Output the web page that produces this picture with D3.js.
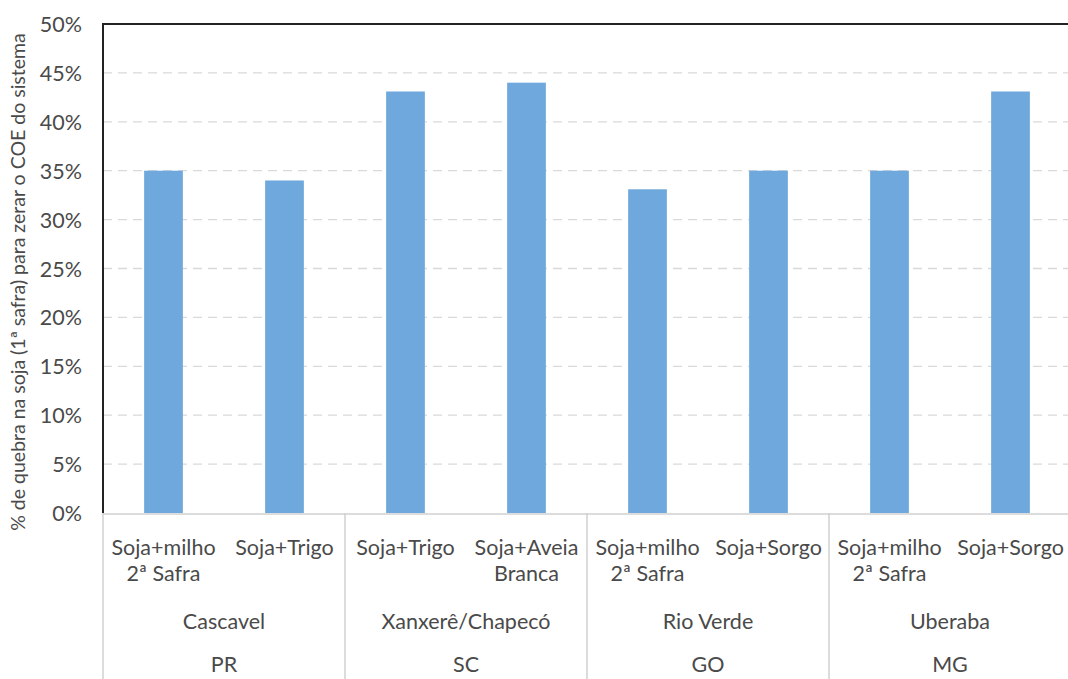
<!DOCTYPE html>
<html><head><meta charset="utf-8">
<script src="https://cdn.jsdelivr.net/npm/d3@7/dist/d3.min.js"></script>
<style>html,body{margin:0;padding:0;background:#fff;overflow:hidden}</style>
</head><body>
<svg id="c" width="1068" height="679"></svg>
<script>
const systemLabels = [
  ["Soja+milho","2ª Safra"], ["Soja+Trigo"],
  ["Soja+Trigo"], ["Soja+Aveia","Branca"],
  ["Soja+milho","2ª Safra"], ["Soja+Sorgo"],
  ["Soja+milho","2ª Safra"], ["Soja+Sorgo"]
];
const values = [0.35, 0.34, 0.431, 0.44, 0.331, 0.35, 0.35, 0.431];
const regions = ["Cascavel","Xanxerê/Chapecó","Rio Verde","Uberaba"];
const states = ["PR","SC","GO","MG"];
const yTicks = [0,0.05,0.10,0.15,0.20,0.25,0.30,0.35,0.40,0.45,0.50];
const yTitle = "% de quebra na soja (1ª safra) para zerar o COE do sistema";

const svg = d3.select("#c");
const font = "Lato, 'Open Sans', sans-serif";
const txt = "#4a4a4a";
const fs = 21.5;
const L = 103, R = 1071, T = 24, B = 513;

const x = d3.scaleBand().domain(d3.range(values.length)).range([L, R])
  .paddingInner(0.68).paddingOuter(0.34);
const step = x.step();
const y = d3.scaleLinear().domain([0, 0.5]).range([B, T]);

// gridlines
svg.append("g").selectAll("line").data(yTicks.filter(t => t > 0 && t < 0.5)).join("line")
  .attr("x1", L).attr("x2", 1068).attr("y1", d => y(d)).attr("y2", d => y(d))
  .attr("stroke", "#d9d9d9").attr("stroke-width", 1.3).attr("stroke-dasharray", "9,6");

// bars
svg.append("g").selectAll("rect").data(values).join("rect")
  .attr("x", (d, i) => x(i)).attr("width", x.bandwidth())
  .attr("y", d => y(d)).attr("height", d => B - y(d))
  .attr("fill", "#6FA8DC");

// baseline
svg.append("line").attr("x1", L).attr("x2", 1068).attr("y1", B + 1).attr("y2", B + 1)
  .attr("stroke", "#d0d0d0").attr("stroke-width", 1.5);

// group separators
const seps = d3.range(regions.length + 1).map(k => L + k * 2 * step);
svg.append("g").selectAll("line").data(seps).join("line")
  .attr("x1", d => d).attr("x2", d => d).attr("y1", B).attr("y2", 679)
  .attr("stroke", "#d0d0d0").attr("stroke-width", 1.5);

// plot border (top/left)
svg.append("path").attr("d", `M${L},${B}V${T}H1068`).attr("fill", "none")
  .attr("stroke", "#222").attr("stroke-width", 2);

// y axis
const yAxis = d3.axisLeft(y).tickValues(yTicks).tickFormat(d3.format(".0%")).tickSize(0).tickPadding(0);
const ga = svg.append("g").attr("transform", `translate(82,0)`).call(yAxis);
ga.select(".domain").remove();
ga.selectAll("text").attr("font-family", font).attr("font-size", fs).attr("fill", txt)
  .attr("dy", "0.35em");

// y title
svg.append("text").attr("transform", `translate(25,282) rotate(-90)`)
  .attr("text-anchor", "middle").attr("font-family", font).attr("font-size", 19.5)
  .attr("fill", txt).text(yTitle);

// category labels
const cl = svg.append("g").selectAll("text").data(systemLabels).join("text")
  .attr("font-family", font).attr("font-size", fs).attr("fill", txt).attr("text-anchor", "middle");
cl.each(function(lines, i) {
  const t = d3.select(this);
  lines.forEach((ln, j) => t.append("tspan").attr("x", x(i) + x.bandwidth() / 2)
    .attr("y", 555 + j * 26).text(ln));
});

// region labels
svg.append("g").selectAll("text").data(regions).join("text")
  .attr("x", (d, k) => L + (2 * k + 1) * step).attr("y", 629)
  .attr("text-anchor", "middle").attr("font-family", font).attr("font-size", fs)
  .attr("fill", txt).text(d => d);

// state labels
svg.append("g").selectAll("text").data(states).join("text")
  .attr("x", (d, k) => L + (2 * k + 1) * step).attr("y", 672)
  .attr("text-anchor", "middle").attr("font-family", font).attr("font-size", fs)
  .attr("fill", txt).text(d => d);
</script>
</body></html>
